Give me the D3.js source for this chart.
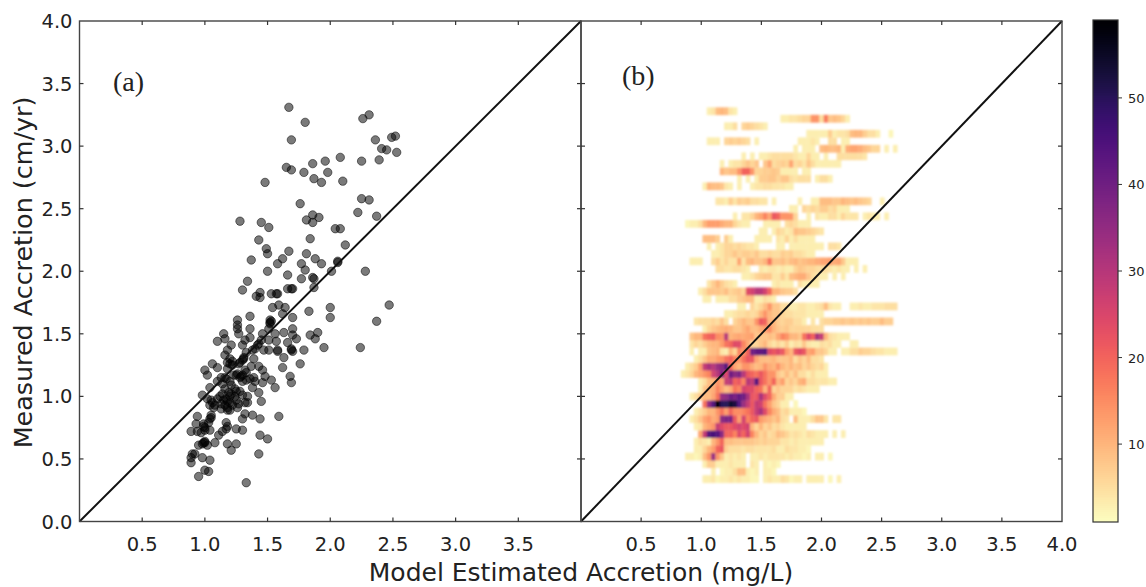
<!DOCTYPE html>
<html>
<head>
<meta charset="utf-8">
<script src="https://cdn.jsdelivr.net/npm/d3@7"></script>
<style>
  html, body { margin: 0; padding: 0; background: #fff; }
  svg { display: block; }
  text { fill: #222; font-family: "DejaVu Sans", sans-serif; }
</style>
</head>
<body>
<svg id="chart" width="1146" height="587"></svg>
<script>
const axisTicks = [0.5, 1.0, 1.5, 2.0, 2.5, 3.0, 3.5];
const yTicks = [0.0, 0.5, 1.0, 1.5, 2.0, 2.5, 3.0, 3.5, 4.0];
const rightPanelXTicks = [0.5, 1.0, 1.5, 2.0, 2.5, 3.0, 3.5, 4.0];
const colorbarTicks = [10, 20, 30, 40, 50];
const countRange = [1, 59];
const panelLabels = ['(a)', '(b)'];
const xTitle = 'Model Estimated Accretion (mg/L)';
const yTitle = 'Measured Accretion (cm/yr)';

// [model estimated, measured]
const scatterPoints = [
  [1.67,3.31],[1.80,3.19],[2.26,3.22],[2.31,3.25],[1.69,3.05],[2.36,3.05],[2.49,3.07],[2.52,3.08],
  [2.41,2.98],[2.45,2.97],[2.53,2.95],[2.39,2.89],[2.25,2.88],[2.08,2.91],[1.96,2.88],[1.86,2.86],
  [1.65,2.83],[1.69,2.81],[1.79,2.79],[1.98,2.79],[1.87,2.74],[1.93,2.71],[2.10,2.72],[1.48,2.71],
  [2.25,2.58],[2.31,2.57],[1.76,2.54],[2.22,2.47],[2.37,2.44],[1.86,2.45],[1.81,2.41],[1.91,2.43],
  [1.86,2.39],[1.28,2.40],[1.45,2.39],[1.51,2.35],[2.04,2.34],[2.08,2.34],[1.84,2.26],[1.43,2.25],
  [2.12,2.21],[1.49,2.18],[1.50,2.14],[1.67,2.16],[1.81,2.14],[1.88,2.10],[1.93,2.06],[1.37,2.09],
  [1.62,2.10],[1.58,2.06],[1.77,2.06],[1.80,2.01],[2.06,2.08],[2.06,2.07],[2.01,2.00],[2.28,2.00],
  [1.50,2.00],[1.66,1.97],[1.77,1.94],[1.86,1.95],[1.87,1.94],[1.34,1.92],[1.30,1.85],[1.87,1.87],
  [1.66,1.86],[1.69,1.86],[1.70,1.86],[1.53,1.82],[1.57,1.82],[1.58,1.82],[1.44,1.83],[1.41,1.80],
  [1.44,1.79],[1.54,1.71],[1.59,1.73],[1.64,1.71],[1.83,1.68],[2.00,1.71],[2.00,1.63],[2.47,1.73],
  [2.37,1.60],[2.24,1.39],[1.36,1.64],[1.26,1.61],[1.26,1.57],[1.26,1.54],[1.27,1.50],[1.52,1.61],
  [1.52,1.58],[1.62,1.66],[1.70,1.63],[1.70,1.54],[1.36,1.54],[1.15,1.50],[1.10,1.44],[1.16,1.46],
  [1.36,1.47],[1.32,1.45],[1.46,1.50],[1.51,1.54],[1.56,1.50],[1.63,1.51],[1.70,1.49],[1.73,1.46],
  [1.66,1.43],[1.90,1.51],[1.84,1.49],[1.88,1.46],[1.95,1.39],[1.79,1.37],[1.69,1.37],[1.58,1.36],
  [1.57,1.44],[1.51,1.45],[1.47,1.37],[1.51,1.37],[1.42,1.41],[1.38,1.37],[1.33,1.35],[1.30,1.41],
  [1.21,1.41],[1.18,1.37],[1.16,1.33],[1.63,1.31],[1.76,1.26],[1.62,1.23],[1.68,1.16],[1.69,1.11],
  [1.31,1.30],[1.30,1.29],[1.20,1.26],[1.22,1.25],[1.18,1.22],[1.06,1.26],[1.10,1.23],[1.00,1.21],
  [1.02,1.17],[1.32,1.21],[1.43,1.24],[1.46,1.21],[1.48,1.16],[1.39,1.15],[1.46,1.11],[1.53,1.13],
  [1.56,1.07],[1.25,1.17],[1.29,1.16],[1.33,1.13],[1.13,1.15],[1.17,1.14],[1.10,1.12],[1.04,1.07],
  [1.38,1.07],[1.43,1.03],[1.45,0.96],[1.34,0.95],[1.30,1.01],[1.32,0.95],[1.24,1.06],[1.21,1.02],
  [1.14,1.02],[1.10,0.98],[1.17,0.98],[1.20,0.95],[1.25,0.97],[1.13,0.94],[1.06,0.95],[1.04,0.93],
  [0.98,1.01],[1.02,0.98],[1.18,0.91],[1.20,0.89],[1.26,0.91],[1.32,0.86],[1.38,0.85],[1.44,0.82],
  [1.59,0.84],[1.30,0.82],[1.05,0.85],[1.04,0.82],[0.94,0.84],[0.93,0.78],[0.99,0.78],[1.17,0.79],
  [1.18,0.76],[1.17,0.74],[0.89,0.72],[0.94,0.72],[1.00,0.73],[1.04,0.73],[1.25,0.74],[1.30,0.73],
  [1.14,0.72],[1.11,0.69],[1.44,0.69],[1.50,0.66],[1.00,0.63],[0.99,0.63],[0.95,0.61],[1.02,0.61],
  [1.08,0.63],[1.18,0.62],[1.25,0.62],[1.21,0.57],[1.43,0.54],[0.90,0.54],[0.92,0.54],[0.89,0.51],
  [0.89,0.47],[0.98,0.51],[1.04,0.49],[1.00,0.41],[1.03,0.40],[0.95,0.36],[1.33,0.31],
  // dense part of the cloud
  [1.18,1.27],[1.20,1.30],[1.23,1.17],[1.20,1.00],[1.15,0.97],[1.18,0.96],[1.22,0.93],[1.27,0.94],
  [1.12,1.00],[1.08,0.93],[1.07,0.91],[1.05,0.97],[1.13,0.90],[1.16,0.93],[1.19,1.03],[1.24,1.00],
  [1.05,0.83],[1.03,0.79],[1.00,0.75],[0.97,0.71],[0.99,0.76],[1.00,0.64],[0.98,0.62],[1.28,1.15],
  [1.26,1.18],[1.30,1.17],[1.30,1.12],[1.33,1.19],[1.36,1.14],[1.40,1.12],[1.31,1.31],[1.52,1.59],
  [1.53,1.60],[1.43,1.42],[1.45,1.45],[1.40,1.38],[1.70,1.36],[1.69,1.38],[1.58,1.37],[1.22,1.28],
  [1.28,1.27],[1.27,1.26],[1.20,1.12],[1.14,1.10],[1.21,1.09],[1.16,1.06],[1.25,1.04],[1.28,1.04],
  [1.34,1.00],[1.18,0.89],[1.16,1.15],[1.37,1.24],[1.39,1.30]
];

// panel (b): 50 x 50 bin counts, bottom row first. each row = first column, then counts (0 = empty bin)
const binX0 = 0.83, binXStep = 0.036, binY0 = 0.31, binYStep = 0.06;
const heatRowStart = [5,7,5,1,3,3,4,3,2,3,5,2,4,4,0,1,3,2,2,2,5,3,10,13,5,4,6,14,8,2,7,6,5,18,1,12,25,8,0,5,13,9,9,14,26,6,29,10,23,6];
const heatRows = [
  [3,3,4,2,3,3,4,3,4,3,3,2,2,0,3,4,3,3,5,4,2,3,3,0,3,3,3,3,0,2,0,3],
  [3,0,2,3,3,5,9,9,3,2,3,0,3,3,2],
  [3,7,7,3,3,3,4,3,3,3,0,4,3,0,3,2,3,2],
  [3,3,2,3,9,14,34,14,8,3,4,3,4,3,0,3,3,4,3,4,4,4,4,3,4,3,3,2,3,0,3,3,0,2],
  [3,3,6,10,13,20,22,7,5,5,5,4,5,5,4,4,4,4,5,3,3,5,4,4,3,3,2],
  [3,5,4,3,10,14,20,9,9,8,8,8,8,8,7,6,7,6,6,6,4,4,3,4,3,3,3,3,3,3],
  [12,28,44,46,44,36,20,20,16,24,20,26,16,10,6,8,5,6,9,8,6,4,5,4,3,5,4,3,3,3,0,3,0,3],
  [3,4,10,12,14,28,24,22,22,24,26,24,26,10,6,10,6,8,5,6,4,3,3,3,3,3],
  [3,5,8,12,14,11,13,36,38,38,22,13,26,16,20,22,13,11,10,8,10,5,4,0,9,3,3,3,5,8,8,4,0,4,4],
  [3,5,7,10,10,14,18,13,20,15,15,16,18,22,28,32,24,16,11,9,5,6,3,3,3,2],
  [18,35,44,59,50,50,54,52,44,34,28,22,28,26,18,13,8,6,3,3,0,2],
  [3,5,8,9,9,12,18,34,36,40,38,42,40,32,22,22,32,24,20,11,7,7,3,3],
  [3,8,10,11,16,12,9,11,18,16,26,24,24,20,18,10,20,6,8,6,6,6,4,5,4,3,3,3],
  [3,5,9,10,14,12,28,30,20,22,16,30,28,44,22,18,14,20,10,13,6,8,6,10,11,5,5,4,4,4,3,3],
  [3,4,6,10,12,14,16,26,30,38,24,40,36,38,30,22,20,18,22,18,14,14,8,6,9,6,9,5,5,3,5,3,3,3],
  [3,5,7,13,28,32,30,34,36,44,20,12,10,14,14,11,9,10,14,11,10,14,10,8,10,8,9,6,8,6,5,6,3],
  [3,5,8,11,11,13,14,18,20,16,14,18,22,22,12,9,9,9,10,8,8,8,10,5,8,6,9,5,5,4],
  [3,0,3,3,8,9,10,4,3,10,6,16,14,20,40,42,42,44,24,22,24,22,13,10,22,24,22,12,13,8,8,6,3,3,0,3,3,5,5,7,6,6,5,4,4,3,3,3],
  [4,6,5,7,9,10,10,13,18,20,24,24,16,11,6,6,8,10,6,4,6,4,7,3,5,4,8,4,3,3,5,4,5,3,3,0,0,3,3],
  [8,10,10,18,20,21,15,14,30,10,11,12,11,12,13,8,8,8,9,8,12,16,14,10,10,8,18,24,20,32,28,10,5,4,3,3,3],
  [3,6,8,9,10,11,10,8,8,10,12,9,9,11,13,15,10,8,7,8,6,6,6,6,6,5,5,5],
  [4,5,5,5,6,5,8,5,0,6,8,10,8,8,14,22,20,10,10,7,6,7,7,5,5,3,0,4,0,5,6,6,7,7,8,7,8,7,8,7,8,7,7,9,7,7],
  [3,3,4,5,5,6,5,6,10,14,10,8,8,6,5,5,4,4,4,3,3,3,3],
  [3,3,0,6,4,6,9,14,8,8,5,5,3,3,4,4,3,3,4,5,9,4,3,3,0,0,3,3,4,3,3,4,4,4,5,5,5],
  [3,3,0,3,3,3,5,5,7,8,9,9,3,3,5,4,3],
  [3,5,8,8,8,7,9,6,7,8,6,24,26,30,30,26,20,10,10,8,7,7,5],
  [4,7,10,7,5,4,3,0,0,0,0,0,0,0,0,3,4,3,3,3,0,5,3,3,3,3],
  [3,3,4,6,7,8,8,4,4,7,4,9,10,11,11,8,5,4,3,3,0,3,0,3],
  [5,5,4,4,5,5,4,3,0,0,4,3,4,4,3,4,3,3,6,8,7,6,6,5,5,5,4,3,4,3,3,0,3,0,3],
  [3,3,3,0,0,5,7,4,6,4,4,12,4,9,10,8,8,10,18,8,8,9,7,9,10,8,9,10,10,11,12,12,13,11,12,8,3,3,3],
  [3,3,4,6,6,8,6,7,7,6,8,5,5,6,5,5,7,6,7,5,5,4,3,3],
  [3,0,3,4,6,6,5,6,5,4,4,3,0,0,0,0,3,3,0,3,3,3,3,3,3,3,3,0,5,5,4],
  [9,9,9,7,0,7,3,0,0,0,0,0,3,3,3,3,0,4,3,6,3,5,3,3,3,3],
  [3,3,0,3,6,5,3,4,9,8,8,7,6,5,4],
  [2,3,3,5,10,13,13,13,11,10,10,6,4,3,3,0,0,0,3,3,3,3,0,5,6,5,3,3,3],
  [3,0,4,4,6,10,12,16,12,22,20,14,14,14,6,0,0,3,0,4,3,3,5,5,3,6,4,4,4,0,3,4,3,3,0,3],
  [3,3,0,6,5,6,5,7,7,5,6,3,3,3],
  [4,4,3,7,4,7,6,7,5,5,4,4,0,3,0,0,0,0,0,3,0,0,3,3,9,9,9,8,8,10,9,8,9,8,7,6,0,0,3],
  [],
  [3,10,9,9,8,4,3,0,3,0,0,3,4,4,5,5,4,4,4,3,3],
  [3,0,3,0,3,7,7,8,8,6,8,8,5,4,5,5,5,0,3,5,5,3],
  [10,8,9,9,14,20,20,14,6,6,7,7,8,7,3,3,3,3,0,3,3],
  [3,0,3,4,4,6,8,6,8,0,8,12,5,6,7,6,12,5,6,4,8,5,3,3,3,3,3,3],
  [3,0,3,0,3,3,4,5,5,5,5,5,4,3,3,6,3,3,0,3,0,0,5,5,5,5,5,5,4],
  [3,0,3,3,3,0,9,10,9,9,10,3,11,12,12,11,9,8,6,6,0,3,0,3],
  [3,3,3,0,6,7,6,7,6,5,0,3,0,0,0,0,0,0,0,0,0,3,3,3,4,3,0,0,5,5,0,3,3],
  [3,3,3,3,3,7,3,4,4,5,9,10,10,7,5,5,3,0,0,2],
  [3,3,5,0,6,7,6,5,4,3],
  [3,3,4,4,5,6,6,14,14,5,17,8,9,8,6,3],
  [3,4,9,10,9,4,3]
];

const svg = d3.select('#chart');
const plotTop = 21, plotBottom = 521.5;
const panelA = { left: 79.5, right: 581 };
const panelB = { left: 581, right: 1062 };

const y = d3.scaleLinear().domain([0, 4]).range([plotBottom, plotTop]);
const xA = d3.scaleLinear().domain([0, 4]).range([panelA.left, panelA.right]);
const xB = d3.scaleLinear().domain([0, 4]).range([panelB.left, panelB.right]);
const barScale = d3.scaleLinear().domain(countRange).range([522, 20]);
const heatColor = d3.scaleSequential(v => d3.interpolateMagma(1 - v)).domain(countRange);

// the reference is a slightly soft raster
const defs = svg.append('defs');
defs.append('filter').attr('id', 'soft')
  .attr('x', '-5%').attr('y', '-5%').attr('width', '110%').attr('height', '110%')
  .append('feGaussianBlur').attr('stdDeviation', 0.9);
defs.append('filter').attr('id', 'softDots')
  .attr('x', '-5%').attr('y', '-5%').attr('width', '110%').attr('height', '110%')
  .append('feGaussianBlur').attr('stdDeviation', 0.45);

// panel a
svg.append('g').attr('filter', 'url(#softDots)').selectAll('circle')
  .data(scatterPoints)
  .enter().append('circle')
  .attr('cx', d => xA(d[0]))
  .attr('cy', d => y(d[1]))
  .attr('r', 4.2)
  .attr('fill', '#000').attr('fill-opacity', 0.52)
  .attr('stroke', '#000').attr('stroke-opacity', 0.52).attr('stroke-width', 1);

// panel b
let cells = [];
heatRows.forEach((row, r) => {
  row.forEach((count, i) => {
    if (count > 0) cells.push({ col: heatRowStart[r] + i, row: r, count: count });
  });
});
svg.append('g').attr('filter', 'url(#soft)').selectAll('rect')
  .data(cells)
  .enter().append('rect')
  .attr('x', d => xB(binX0 + d.col * binXStep))
  .attr('y', d => y(binY0 + (d.row + 1) * binYStep))
  .attr('width', xB(binXStep) - xB(0) + 0.3)
  .attr('height', y(0) - y(binYStep) + 0.3)
  .attr('fill', d => heatColor(d.count));

// 1:1 lines
[xA, xB].forEach(x => {
  svg.append('line')
    .attr('x1', x(0)).attr('y1', y(0))
    .attr('x2', x(4)).attr('y2', y(4))
    .attr('stroke', '#111').attr('stroke-width', 2);
});

function frame(panel, x, labels, leftLabels) {
  const g = svg.append('g');
  g.append('rect')
    .attr('x', panel.left).attr('y', plotTop)
    .attr('width', panel.right - panel.left).attr('height', plotBottom - plotTop)
    .attr('fill', 'none').attr('stroke', '#444').attr('stroke-width', 1.4);
  const tickLen = 4;
  // ticks point inward on all four sides
  axisTicks.forEach(t => {
    g.append('line').attr('x1', x(t)).attr('x2', x(t)).attr('y1', plotBottom).attr('y2', plotBottom - tickLen).attr('stroke', '#333').attr('stroke-width', 1.2);
    g.append('line').attr('x1', x(t)).attr('x2', x(t)).attr('y1', plotTop).attr('y2', plotTop + tickLen).attr('stroke', '#333').attr('stroke-width', 1.2);
    g.append('line').attr('x1', panel.left).attr('x2', panel.left + tickLen).attr('y1', y(t)).attr('y2', y(t)).attr('stroke', '#333').attr('stroke-width', 1.2);
    g.append('line').attr('x1', panel.right).attr('x2', panel.right - tickLen).attr('y1', y(t)).attr('y2', y(t)).attr('stroke', '#333').attr('stroke-width', 1.2);
  });
  g.selectAll('text.xt').data(labels).enter().append('text')
    .attr('class', 'xt')
    .attr('x', d => x(d)).attr('y', 551)
    .attr('text-anchor', 'middle').attr('font-size', 19.5)
    .text(d => d.toFixed(1));
  if (leftLabels) {
    g.selectAll('text.yt').data(yTicks).enter().append('text')
      .attr('class', 'yt')
      .attr('x', panel.left - 7).attr('y', d => y(d) + 7)
      .attr('text-anchor', 'end').attr('font-size', 19.5)
      .text(d => d.toFixed(1));
  }
}
frame(panelA, xA, axisTicks, true);
frame(panelB, xB, rightPanelXTicks, false);

svg.append('text').attr('x', 581).attr('y', 581)
  .attr('text-anchor', 'middle').attr('font-size', 25)
  .text(xTitle);
svg.append('text').attr('transform', 'translate(32,272.5) rotate(-90)')
  .attr('text-anchor', 'middle').attr('font-size', 25.4)
  .text(yTitle);

svg.selectAll('text.panel').data(panelLabels).enter().append('text')
  .attr('class', 'panel')
  .attr('x', (d, i) => i === 0 ? 113 : 622).attr('y', (d, i) => i === 0 ? 91 : 85)
  .attr('font-size', 28).style('font-family', '"Liberation Serif", serif')
  .text(d => d);

// colorbar, one rect per pixel row
svg.append('g').selectAll('rect')
  .data(d3.range(20, 522))
  .enter().append('rect')
  .attr('x', 1093).attr('width', 25)
  .attr('y', d => d).attr('height', 1)
  .attr('shape-rendering', 'crispEdges')
  .attr('fill', d => heatColor(barScale.invert(d + 0.5)));
svg.append('rect').attr('x', 1093).attr('y', 20).attr('width', 25).attr('height', 502)
  .attr('fill', 'none').attr('stroke', '#333').attr('stroke-width', 1.2);
const barAxis = svg.append('g').selectAll('g').data(colorbarTicks).enter().append('g');
barAxis.append('line')
  .attr('x1', 1118).attr('x2', 1122)
  .attr('y1', d => barScale(d)).attr('y2', d => barScale(d))
  .attr('stroke', '#333').attr('stroke-width', 1);
barAxis.append('text')
  .attr('x', 1128).attr('y', d => barScale(d) + 5)
  .attr('font-size', 13)
  .text(d => d);
</script>
</body>
</html>
